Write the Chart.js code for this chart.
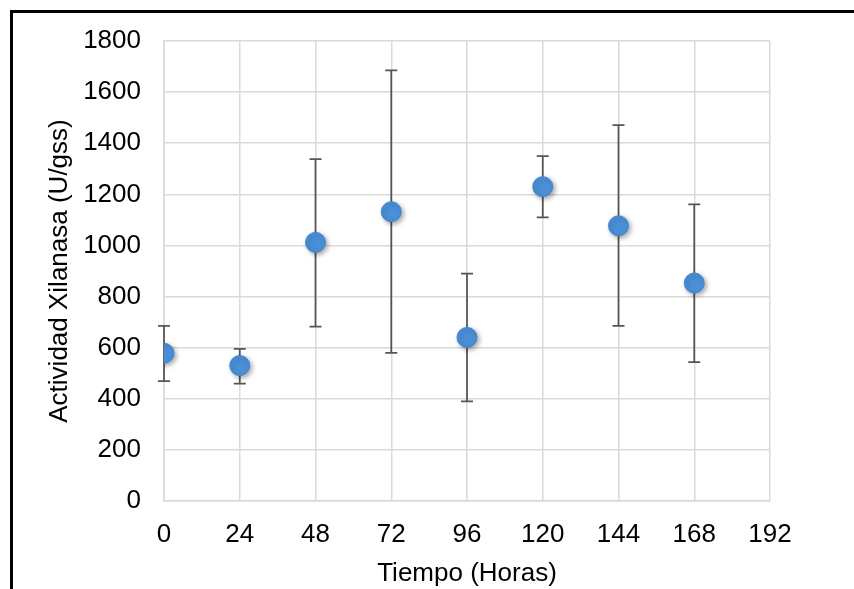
<!DOCTYPE html>
<html>
<head>
<meta charset="utf-8">
<script src="https://cdn.jsdelivr.net/npm/chart.js@4.4.1/dist/chart.umd.min.js"></script>
<style>
  html, body { margin: 0; padding: 0; background: #fff; overflow: hidden; }
  #frame {
    position: absolute; left: 10px; top: 10px;
    width: 900px; height: 700px;
    border: 3px solid #000; box-sizing: border-box;
  }
  #wrap { position: absolute; left: 0; top: 0; width: 854px; height: 589px; }
</style>
</head>
<body>
<div id="frame"></div>
<div id="wrap"><canvas id="xilanasa-chart"></canvas></div>
<script>
// Data
const hours = [0, 24, 48, 72, 96, 120, 144, 168];
const actividad = [578, 530, 1012, 1132, 640, 1230, 1077, 853];
const errUpper = [685, 595, 1338, 1685, 890, 1350, 1471, 1161];
const errLower = [469, 459, 682, 580, 390, 1110, 685, 543];

const points = hours.map((h, i) => ({ x: h, y: actividad[i] }));

// error bars, drawn behind the markers
const errorBars = {
  id: 'errorBars',
  beforeDatasetsDraw(chart) {
    const { ctx, scales: { x, y } } = chart;
    ctx.save();
    ctx.strokeStyle = '#555555';
    ctx.lineWidth = 1.75;
    hours.forEach((h, i) => {
      const px = x.getPixelForValue(h);
      const top = y.getPixelForValue(errUpper[i]);
      const bot = y.getPixelForValue(errLower[i]);
      ctx.beginPath();
      ctx.moveTo(px, top);
      ctx.lineTo(px, bot);
      ctx.moveTo(px - 6, top);
      ctx.lineTo(px + 6, top);
      ctx.moveTo(px - 6, bot);
      ctx.lineTo(px + 6, bot);
      ctx.stroke();
    });
    ctx.restore();
  },
  beforeDatasetDraw(chart) {
    const ctx = chart.ctx;
    ctx.save();
    ctx.shadowColor = 'rgba(0,0,0,0.35)';
    ctx.shadowBlur = 5;
    ctx.shadowOffsetX = 2;
    ctx.shadowOffsetY = 2;
  },
  afterDatasetDraw(chart) {
    chart.ctx.restore();
  }
};

const font = { family: '"Liberation Sans", Arial, sans-serif', size: 26 };
const gridColor = '#d9d9d9';

new Chart(document.getElementById('xilanasa-chart'), {
  type: 'scatter',
  data: {
    datasets: [{
      data: points,
      backgroundColor: '#4a8fd8',
      borderColor: '#4187d2',
      borderWidth: 1,
      pointRadius: 10,
      pointHoverRadius: 10
    }]
  },
  options: {
    responsive: true,
    maintainAspectRatio: false,
    animation: false,
    layout: { padding: { top: 41, right: 84, left: 0, bottom: 0 } },
    plugins: {
      legend: { display: false },
      tooltip: { enabled: false }
    },
    scales: {
      x: {
        type: 'linear',
        min: 0,
        max: 192,
        ticks: { stepSize: 24, color: '#000', font: font, padding: 18, maxRotation: 0, callback: (v) => String(v) },
        grid: { color: gridColor, lineWidth: 1.5, drawTicks: false },
        border: { color: gridColor, width: 1.5 },
        title: { display: true, text: 'Tiempo (Horas)', color: '#000', font: font, padding: { top: 0, bottom: 0 } },
        afterFit(scale) { scale.height = 88; }
      },
      y: {
        min: 0,
        max: 1800,
        ticks: { stepSize: 200, color: '#000', font: font, padding: 23, callback: (v) => String(v) },
        grid: { color: gridColor, lineWidth: 1.5, drawTicks: false },
        border: { color: gridColor, width: 1.5 },
        title: { display: true, text: 'Actividad Xilanasa (U/gss)', color: '#000', font: font, padding: { top: 44, bottom: 0 } },
        afterFit(scale) { scale.width = 164; }
      }
    }
  },
  plugins: [errorBars]
});
</script>
</body>
</html>
